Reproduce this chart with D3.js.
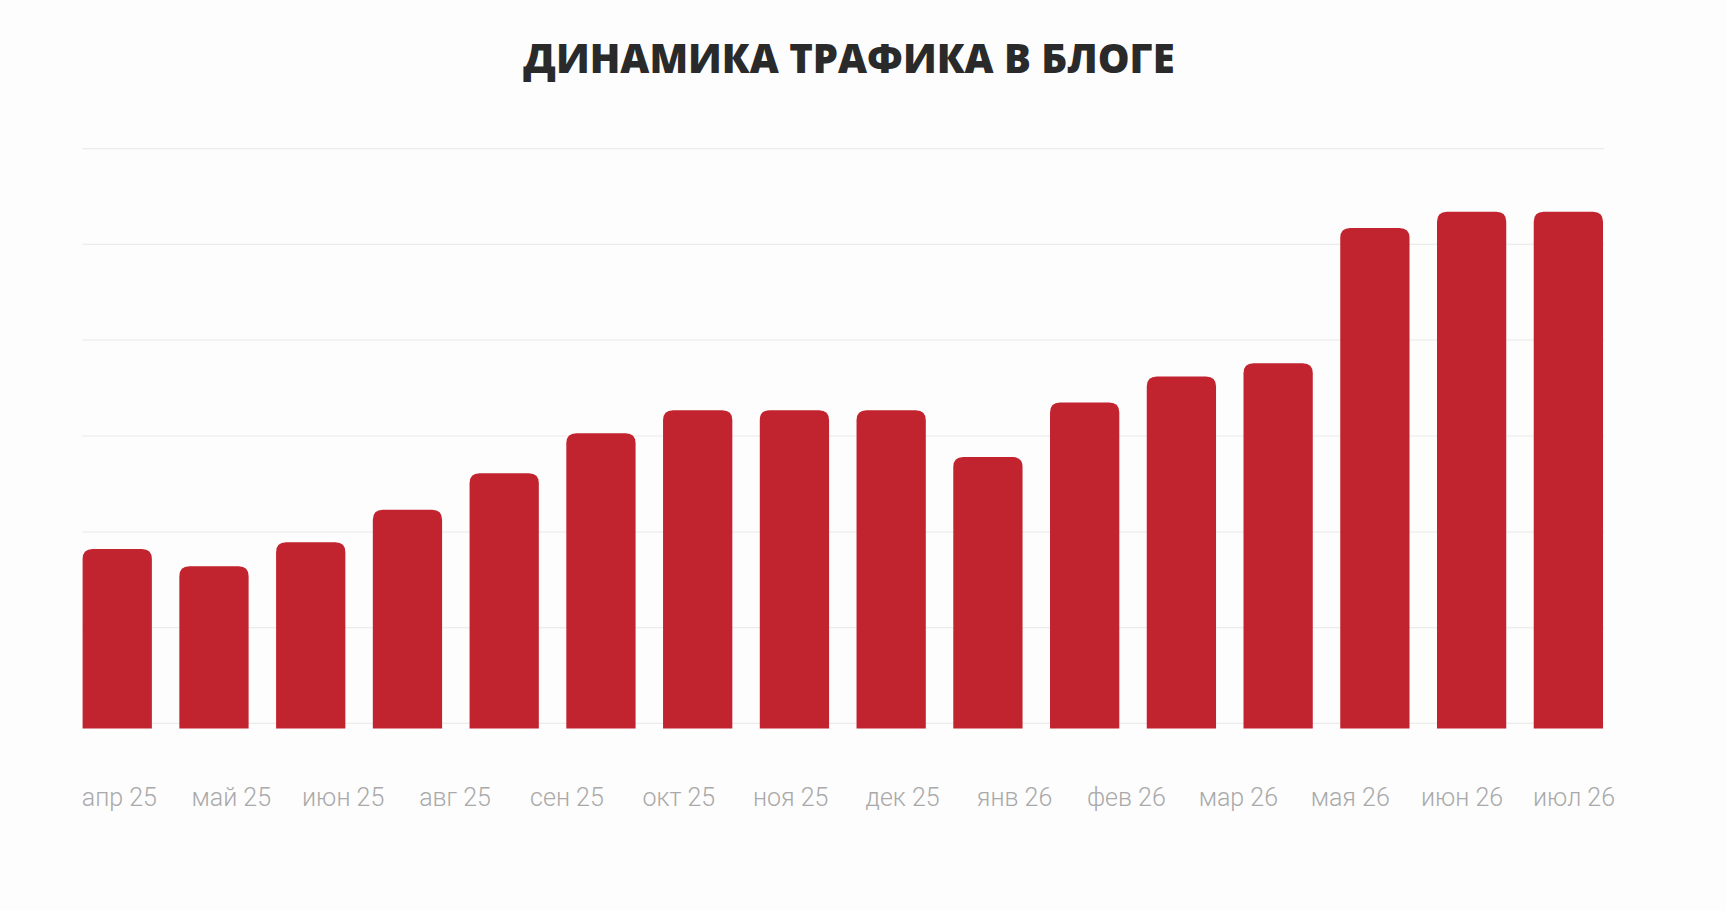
<!DOCTYPE html>
<html><head><meta charset="utf-8">
<script src="https://cdn.jsdelivr.net/npm/d3@7"></script>
<style>body{margin:0;background:#fdfdfd;}svg{display:block}</style>
</head><body><svg id="c" width="1726" height="911"></svg>
<script>
const title = "ДИНАМИКА ТРАФИКА В БЛОГЕ";
const tickLabels = ["апр 25","май 25","июн 25","авг 25","сен 25","окт 25","ноя 25","дек 25","янв 26","фев 26","мар 26","мая 26","июн 26","июл 26"];
const barIds = ["b1","b2","b3","b4","b5","b6","b7","b8","b9","b10","b11","b12","b13","b14","b15","b16"];
const values = [1.82,1.64,1.89,2.23,2.61,3.03,3.27,3.27,3.27,2.78,3.35,3.62,3.76,5.17,5.34,5.34];
const gridTicks = [0,1,2,3,4,5,6];

const svg = d3.select("#c");
svg.append("rect").attr("width",1726).attr("height",911).attr("fill","#fdfdfd");

const x = d3.scaleBand().domain(barIds).range([82.6,1603]).paddingInner(0.284).paddingOuter(0);
const y = d3.scaleLinear().domain([0,6]).range([723.4,148.6]);
const xl = d3.scalePoint().domain(tickLabels).range([119.4,1574]);

svg.append("g").selectAll("line").data(gridTicks).join("line")
  .attr("x1",82).attr("x2",1604).attr("y1",d=>y(d)).attr("y2",d=>y(d))
  .attr("stroke","#ececec").attr("stroke-width",1.2);

const r = 10, base = y(0)+5;
svg.append("g").selectAll("path").data(values).join("path")
  .attr("fill","#c1232f")
  .attr("d",(d,i)=>{
    const x0 = x(barIds[i]), w = x.bandwidth(), t = y(d);
    return `M${x0},${base}V${t+r}Q${x0},${t} ${x0+r},${t}H${x0+w-r}Q${x0+w},${t} ${x0+w},${t+r}V${base}Z`;
  });

svg.append("g").selectAll("text").data(tickLabels).join("text")
  .attr("x",d=>xl(d)).attr("y",806).attr("text-anchor","middle")
  .attr("font-family","Roboto").attr("font-weight",300).attr("font-size",25)
  .attr("fill","#a9a9a9").text(d=>d);

svg.append("text").attr("x",849).attr("y",73).attr("text-anchor","middle")
  .attr("font-family","'Open Sans'").attr("font-weight",800).attr("font-size",40)
  .attr("fill","#2a2a2a").text(title);
</script>
</body></html>
